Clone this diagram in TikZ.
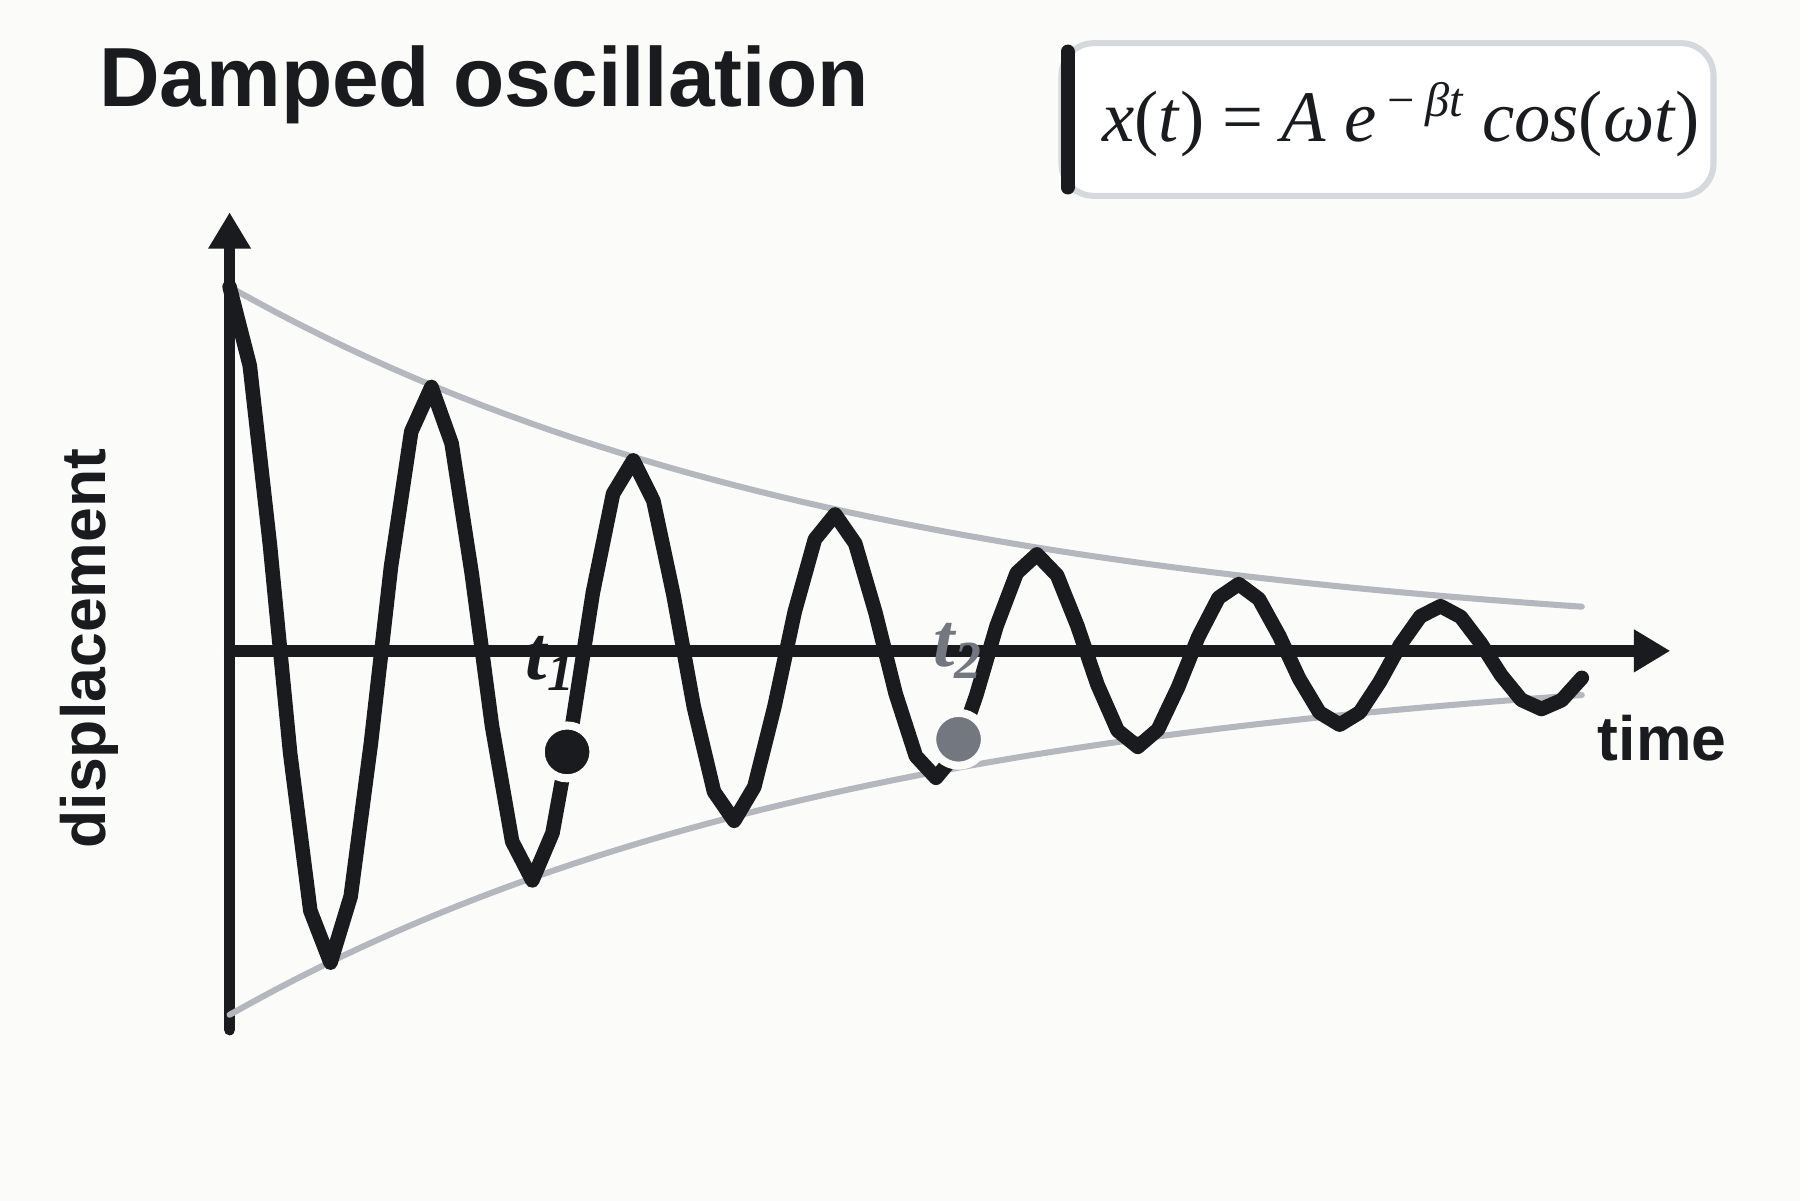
\documentclass[tikz,border=0pt]{standalone}
\usepackage{fontspec}
\setmainfont{Liberation Serif}
\setsansfont{Liberation Sans}
\usetikzlibrary{positioning,arrows.meta}
\definecolor{inkblack}{RGB}{26,27,30}
\definecolor{envgray}{RGB}{180,183,189}
\definecolor{dotgray}{RGB}{115,119,128}
\definecolor{boxgray}{RGB}{213,216,220}
\definecolor{paper}{RGB}{251,251,249}

\begin{document}
\begin{tikzpicture}[
    axisline/.style={line width=2.8pt, inkblack, line cap=round, -{Triangle[length=9pt,width=10pt]}},
    envelope/.style={line width=1.5pt, envgray, line cap=round},
    wave/.style={line width=3.6pt, inkblack, line join=round, line cap=round},
    marker/.style={circle, inner sep=0pt, minimum size=0.46cm, draw=paper, line width=2pt},
    tlabel/.style={font=\bfseries\itshape\fontsize{19}{22}\selectfont}
]
    \fill[paper] (0,0) rectangle (15.68,10.46);
    \useasboundingbox (0,0) rectangle (15.68,10.46);

    % title
    \node[anchor=west, inkblack, font=\sffamily\bfseries\fontsize{20.8}{24}\selectfont] (title) at (0.74,9.72) {Damped oscillation};

    % formula box
    \node[draw=boxgray, line width=1.5pt, fill=white, rounded corners=8pt, minimum width=5.68cm, minimum height=1.33cm, anchor=north west] (formula) at (9.22,10.11) {};
    \draw[line width=3.5pt, inkblack, line cap=round] ([xshift=0.08cm,yshift=-0.1cm]formula.north west) coordinate (barT) -- ([xshift=0.08cm,yshift=0.1cm]formula.south west) coordinate (barB);
    \node[inkblack, font=\fontsize{18}{22}\selectfont] (eq) at ([xshift=0.12cm]formula.center) {\textit{x}(\textit{t}) = \textit{A e}\raisebox{0.75ex}{\fontsize{12}{14}\selectfont\textit{\,−\,βt}} \textit{cos}(\textit{ωt})};

    % axes
    \coordinate (O) at (2.0,4.79);
    \coordinate (ybot) at (2.0,1.49);
    \coordinate (ytop) at (2.0,8.61);
    \coordinate (xend) at (14.55,4.79);
    \draw[axisline, -] (ybot) -- (O);
    \draw[axisline] (O) -- (ytop);
    \draw[axisline] (O) -- (xend);

    % envelopes
    \draw[envelope, domain=0:11.78, samples=60, shift={(O)}] plot (\x, {3.17*exp(-0.179*\x)});
    \draw[envelope, domain=0:11.78, samples=60, shift={(O)}] plot (\x, {-3.17*exp(-0.179*\x)});

    % wave
    \draw[wave, domain=0:11.78, samples=68, shift={(O)}] plot (\x, {3.17*exp(-0.179*\x)*cos(360*\x/1.76)-0.1*(\x/11.78)});

    % markers
    \node[marker, fill=inkblack] (p1) at (4.94,3.91) {};
    \node[marker, fill=dotgray] (p2) at (8.35,4.02) {};
    \node[tlabel, inkblack] (t1) at (4.8,4.68) {t\textsubscript{1}};
    \node[tlabel, dotgray] (t2) at (8.35,4.79) {t\textsubscript{2}};

    % axis labels
    \node[font=\sffamily\bfseries\fontsize{15.5}{18}\selectfont, inkblack, rotate=90] (ylab) at (0.78,4.81) {displacement};
    \node[font=\sffamily\bfseries\fontsize{15.5}{18}\selectfont, inkblack] (xlab) at (14.48,4.03) {time};
\end{tikzpicture}
\end{document}
